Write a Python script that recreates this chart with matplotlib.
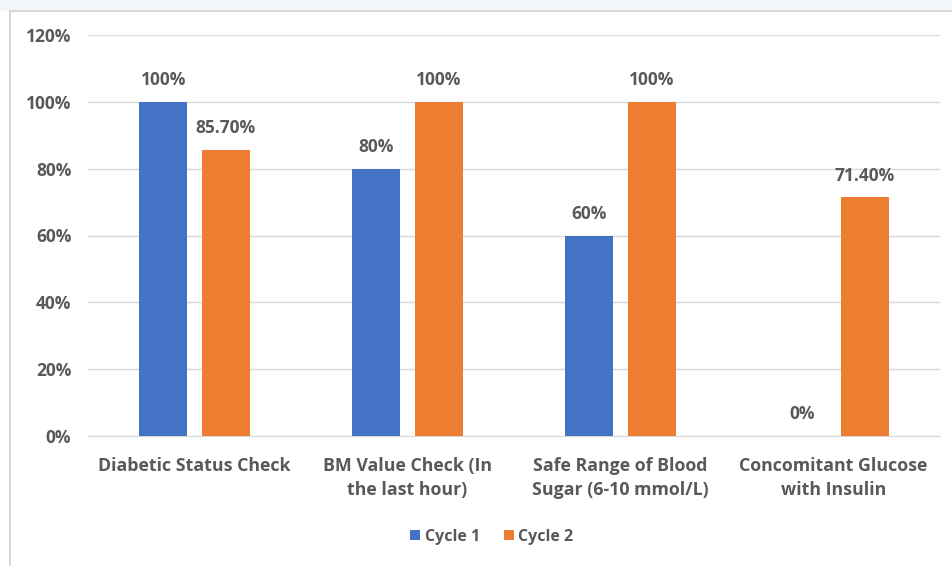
import numpy as np
import matplotlib
matplotlib.use('Agg')
import matplotlib.pyplot as plt
from matplotlib.patches import Rectangle

categories = ['Diabetic Status Check', 'BM Value Check (In\nthe last hour)',
              'Safe Range of Blood\nSugar (6-10 mmol/L)', 'Concomitant Glucose\nwith Insulin']
cycle1 = [100, 80, 60, 0]
cycle2 = [85.7, 100, 100, 71.4]
labels1 = ['100%', '80%', '60%', '0%']
labels2 = ['85.70%', '100%', '100%', '71.40%']

plt.rcParams['font.family'] = ['Open Sans', 'DejaVu Sans']
grey = '#595959'

W, H = 952, 566
fig = plt.figure(figsize=(W / 100, H / 100), dpi=100)
fig.patch.set_facecolor('white')

# page strip on top and chart border
fig.patches.append(Rectangle((0, 1 - 11 / H), 1, 11 / H, transform=fig.transFigure,
                             facecolor='#f3f6fb', edgecolor='none', zorder=0))
fig.lines.append(plt.Line2D([10 / W, 10 / W], [0, 1 - 11 / H], transform=fig.transFigure,
                            color='#d0d0d0', lw=1.2))
fig.lines.append(plt.Line2D([10 / W, 1], [1 - 11 / H, 1 - 11 / H], transform=fig.transFigure,
                            color='#d0d0d0', lw=1.2))

ax = fig.add_axes([88 / W, 1 - 436 / H, (940 - 88) / W, (436 - 35) / H])
x = np.arange(len(categories))
bw = 0.225
off = 0.146
b1 = ax.bar(x - off, cycle1, bw, color='#4472C4', label='Cycle 1', zorder=3)
b2 = ax.bar(x + off, cycle2, bw, color='#ED7D31', label='Cycle 2', zorder=3)

for xi, v, t in zip(x - off, cycle1, labels1):
    ax.text(xi, v + 3.8, t, ha='center', va='bottom', fontsize=12.5, color=grey, fontweight='bold')
for xi, v, t in zip(x + off, cycle2, labels2):
    ax.text(xi, v + 3.8, t, ha='center', va='bottom', fontsize=12.5, color=grey, fontweight='bold')

ax.set_xlim(-0.5, 3.5)
ax.set_ylim(0, 120)
ax.set_yticks(range(0, 121, 20))
ax.set_yticklabels([f'{v}%' for v in range(0, 121, 20)])
ax.yaxis.grid(True, color='#d9d9d9', lw=1, zorder=0)
ax.set_xticks(x)
ax.set_xticklabels(categories, fontsize=12.8, color=grey, fontweight='bold', linespacing=1.45)
for s in ['top', 'right', 'left']:
    ax.spines[s].set_visible(False)
ax.spines['bottom'].set_color('#d9d9d9')
ax.tick_params(axis='both', length=0)
ax.tick_params(axis='y', labelsize=12.5, labelcolor=grey, pad=12)
ax.tick_params(axis='x', pad=15)
for lab in ax.get_yticklabels():
    lab.set_fontweight('bold')

leg = fig.legend(handles=[b1, b2], loc='center', bbox_to_anchor=(492 / W, 1 - 537 / H), ncol=2,
                 frameon=False, fontsize=11.5, handlelength=0.6, handleheight=0.6,
                 handletextpad=0.3, columnspacing=1.5)
for t in leg.get_texts():
    t.set_color(grey)
    t.set_fontweight('bold')

fig.savefig('out.png', dpi=100)
